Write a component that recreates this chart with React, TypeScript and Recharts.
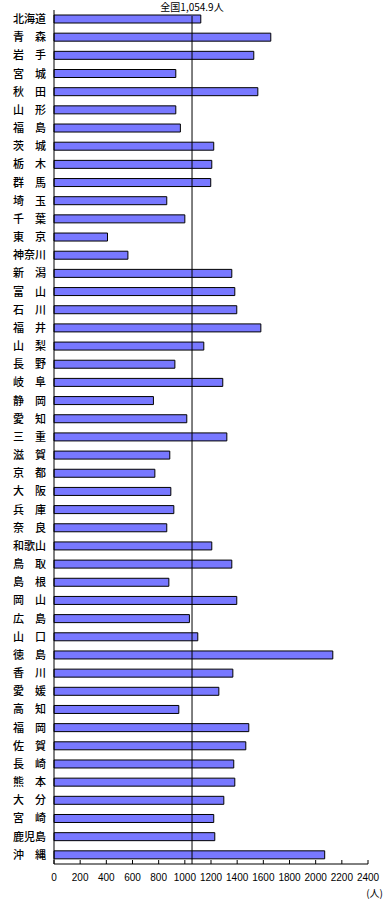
import { Bar, BarChart, ReferenceLine, XAxis, YAxis } from "recharts";

const prefectures = [
  "北海道", "青　森", "岩　手", "宮　城", "秋　田", "山　形", "福　島",
  "茨　城", "栃　木", "群　馬", "埼　玉", "千　葉", "東　京", "神奈川",
  "新　潟", "富　山", "石　川", "福　井", "山　梨", "長　野", "岐　阜",
  "静　岡", "愛　知", "三　重", "滋　賀", "京　都", "大　阪", "兵　庫",
  "奈　良", "和歌山", "鳥　取", "島　根", "岡　山", "広　島", "山　口",
  "徳　島", "香　川", "愛　媛", "高　知", "福　岡", "佐　賀", "長　崎",
  "熊　本", "大　分", "宮　崎", "鹿児島", "沖　縄",
];

const values = [
  1122, 1657, 1527, 931, 1558, 931, 966,
  1221, 1206, 1198, 862, 1000, 409, 565,
  1359, 1382, 1397, 1581, 1145, 924, 1290,
  760, 1015, 1321, 885, 771, 893, 916,
  862, 1206, 1359, 878, 1397, 1035, 1099,
  2131, 1367, 1260, 954, 1489, 1466, 1374,
  1382, 1298, 1221, 1229, 2069,
];

const xTicks = [0, 200, 400, 600, 800, 1000, 1200, 1400, 1600, 1800, 2000, 2200, 2400];
const national = 1054.9;

const data = prefectures.map((name, i) => ({ name, value: values[i] }));

const RefShape = (p: any) => (
  <line x1={p.x1} y1={p.y1} x2={p.x2} y2={p.y2 + 6} stroke="#000" strokeWidth={1} />
);

export default function App() {
  return (
    <div style={{ position: "absolute", left: 0, top: 0, width: 385, height: 905, background: "#fff" }}>
      <BarChart
        width={385}
        height={905}
        layout="vertical"
        data={data}
        margin={{ top: 10, right: 17, bottom: 11, left: 0 }}
      >
        <XAxis
          type="number"
          dataKey="value"
          domain={[0, 2400]}
          ticks={xTicks}
          interval={0}
          height={30}
          tickSize={-4}
          tickMargin={14}
          axisLine={{ stroke: "#000" }}
          tickLine={{ stroke: "#000" }}
          tick={{ fill: "#000", fontSize: 10, fontFamily: "Liberation Sans Narrow, Liberation Sans, sans-serif" }}
          label={{ value: "(人)", position: "insideBottomRight", offset: 0, dx: 15, dy: 3, fill: "#000", fontSize: 10, fontFamily: "Noto Sans CJK JP" }}
        />
        <YAxis
          type="category"
          dataKey="name"
          width={54}
          interval={0}
          tickLine={false}
          axisLine={{ stroke: "#000" }}
          tick={{ fill: "#000", fontSize: 11, fontFamily: "Noto Sans CJK JP", fontWeight: 500 }}
        />
        <Bar dataKey="value" barSize={8} fill="#7878ff" stroke="#000" strokeWidth={1} isAnimationActive={false} />
        <ReferenceLine
          x={national}
          stroke="#000"
          shape={RefShape}
          label={{ value: "全国1,054.9人", position: "top", offset: -1, fill: "#000", fontSize: 10, fontFamily: "Noto Sans CJK JP" }}
        />
      </BarChart>
    </div>
  );
}
